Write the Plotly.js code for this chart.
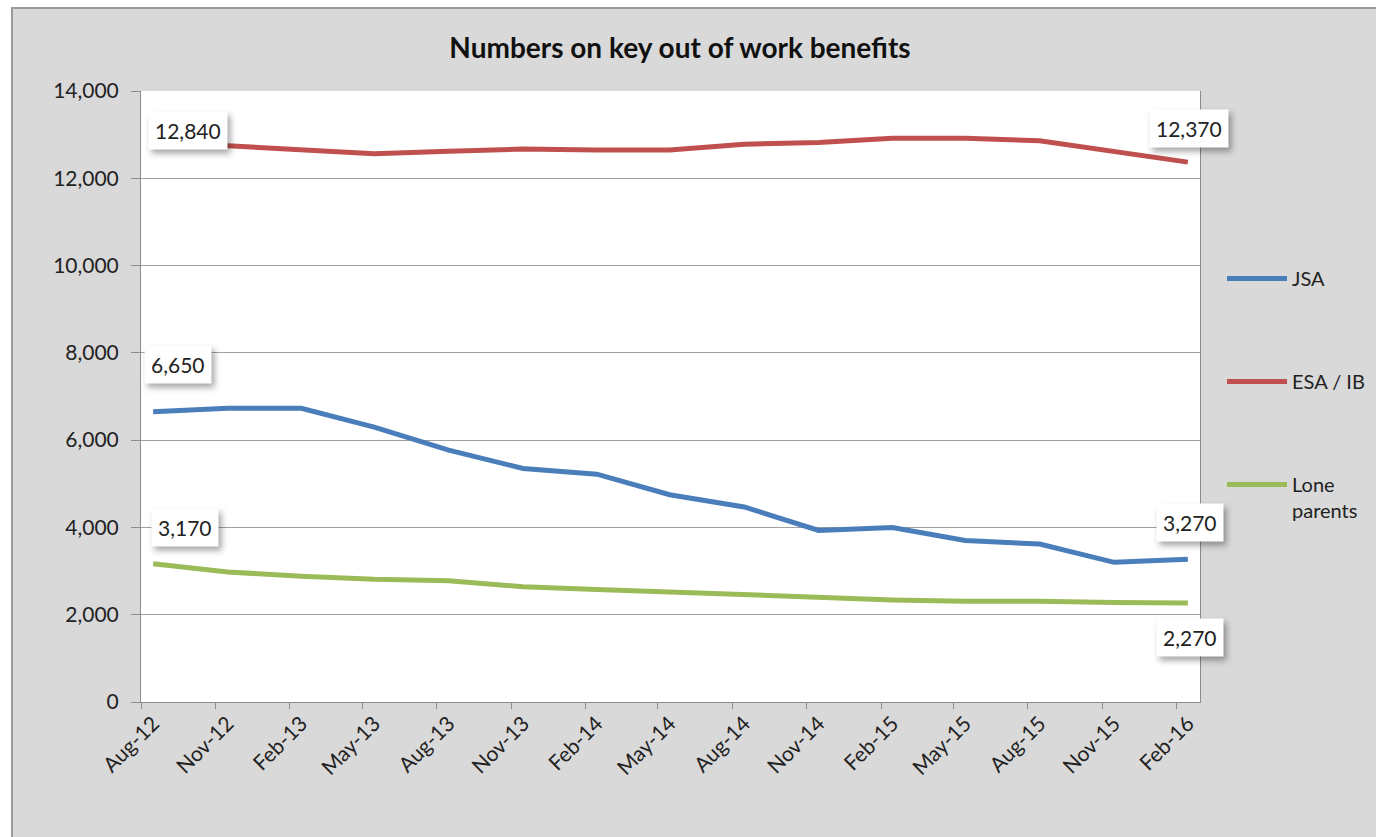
<!DOCTYPE html>
<html><head><meta charset="utf-8">
<script src="https://cdn.plot.ly/plotly-3.0.1.min.js"></script>
<style>
html,body{margin:0;padding:0;background:#fff;}
#chart{width:1376px;height:837px;}
#chart .annotation rect.bg{filter:drop-shadow(3px 4px 3px rgba(0,0,0,0.35));}
#chart .layer-below .shapelayer path:nth-of-type(2){filter:drop-shadow(3px 3px 3px rgba(0,0,0,0.35));}
</style>
</head><body><div id="chart"></div>
<script>
// Data (quarterly, Aug-12 to Feb-16)
const dates = ['2012-08-16','2012-11-16','2013-02-15','2013-05-16','2013-08-16','2013-11-16','2014-02-15','2014-05-16','2014-08-16','2014-11-16','2015-02-15','2015-05-16','2015-08-16','2015-11-16','2016-02-15'];
const tickLabels = ['Aug-12','Nov-12','Feb-13','May-13','Aug-13','Nov-13','Feb-14','May-14','Aug-14','Nov-14','Feb-15','May-15','Aug-15','Nov-15','Feb-16'];
const seriesNames = ['JSA','ESA / IB','Lone<br>parents'];
const jsa  = [6650,6730,6730,6300,5770,5350,5220,4750,4470,3930,4000,3700,3620,3200,3270];
const esa  = [12840,12740,12660,12560,12620,12670,12650,12650,12780,12820,12920,12920,12860,12620,12370];
const lone = [3170,2980,2880,2810,2780,2640,2580,2520,2450,2380,2340,2310,2310,2280,2270];
const colors = ['#4a7ebb','#c0504d','#9bbb59'];

const FONT = 'Lato, "Open Sans", sans-serif';
const series = [jsa, esa, lone];
const traces = series.map((vals, i) => ({
  x: dates, y: vals, type: 'scatter', mode: 'lines', name: seriesNames[i],
  legendgroup: 'g' + i,
  line: {color: colors[i], width: 5, shape: 'linear'},
  hoverinfo: 'x+y+name'
}));

// data label annotations (first and last points), offsets in px
const fmt = v => v.toLocaleString('en-US');
const labelSpecs = [
  {s: esa,  idx: 0,  xs: 35, ys: 11},
  {s: esa,  idx: 14, xs: 1,  ys: 34},
  {s: jsa,  idx: 0,  xs: 25, ys: 47},
  {s: jsa,  idx: 14, xs: 2,  ys: 37},
  {s: lone, idx: 0,  xs: 32, ys: 36},
  {s: lone, idx: 14, xs: 2,  ys: -35}
];
const annotations = labelSpecs.map(a => ({
  x: dates[a.idx], y: a.s[a.idx], text: fmt(a.s[a.idx]), showarrow: false,
  xshift: a.xs, yshift: a.ys, bgcolor: '#ffffff', borderpad: 6,
  font: {family: FONT, size: 21, color: '#222'}
}));

const L = 141, R = 176, T = 91, B = 135, W = 1376, H = 837;
const pw = W - L - R, ph = H - T - B;
const px2x = p => (p - L) / pw;
const py2y = p => (H - B - p) / ph;

const layout = {
  width: W, height: H,
  margin: {l: L, r: R, t: T, b: B, autoexpand: false},
  paper_bgcolor: '#ffffff', plot_bgcolor: 'rgba(0,0,0,0)',
  title: {text: 'Numbers on key out of work benefits', x: 680 / W, xref: 'container', xanchor: 'center',
          y: 1 - 48 / H, yref: 'container', yanchor: 'middle',
          font: {family: FONT, size: 28, color: '#111', weight: 700}},
  xaxis: {type: 'date', range: ['2012-08-01', '2016-03-01'], tickvals: dates, ticktext: tickLabels,
          tickangle: -45, ticks: '', showgrid: false, showline: true, linecolor: '#8c8c8c', linewidth: 1,
          zeroline: false, automargin: false, tickfont: {family: FONT, size: 21, color: '#222'},
          minor: {ticks: 'outside', ticklen: 6, tickcolor: '#8c8c8c', tick0: '2012-08-01', dtick: 'M3', showgrid: false}},
  yaxis: {range: [0, 14000], dtick: 2000, tick0: 0, tickformat: ',d', ticks: 'outside', ticklen: 9,
          ticklabelstandoff: 8, automargin: false,
          tickcolor: '#8c8c8c', showgrid: true, gridcolor: '#a0a0a0', gridwidth: 1, showline: true, mirror: true,
          linecolor: '#8c8c8c', linewidth: 1, zeroline: false, tickfont: {family: FONT, size: 21, color: '#222'}},
  legend: {x: px2x(1222), xanchor: 'left', y: py2y(259), yanchor: 'top', bgcolor: 'rgba(0,0,0,0)',
           borderwidth: 0, tracegroupgap: 74, itemwidth: 60, valign: 'top',
           font: {family: FONT, size: 20, color: '#222'}},
  shapes: [
    {type: 'rect', xref: 'paper', yref: 'paper', x0: px2x(12), x1: px2x(1390), y0: py2y(850), y1: py2y(8),
     fillcolor: '#d9d9d9', line: {color: '#9a9a9a', width: 2}, layer: 'below'},
    {type: 'rect', xref: 'paper', yref: 'paper', x0: 0, x1: 1, y0: 0, y1: 1,
     fillcolor: '#ffffff', line: {width: 0}, layer: 'below'}
  ],
  annotations: annotations,
  hovermode: 'closest'
};

Plotly.newPlot('chart', traces, layout, {displayModeBar: false});
</script>
</body></html>
